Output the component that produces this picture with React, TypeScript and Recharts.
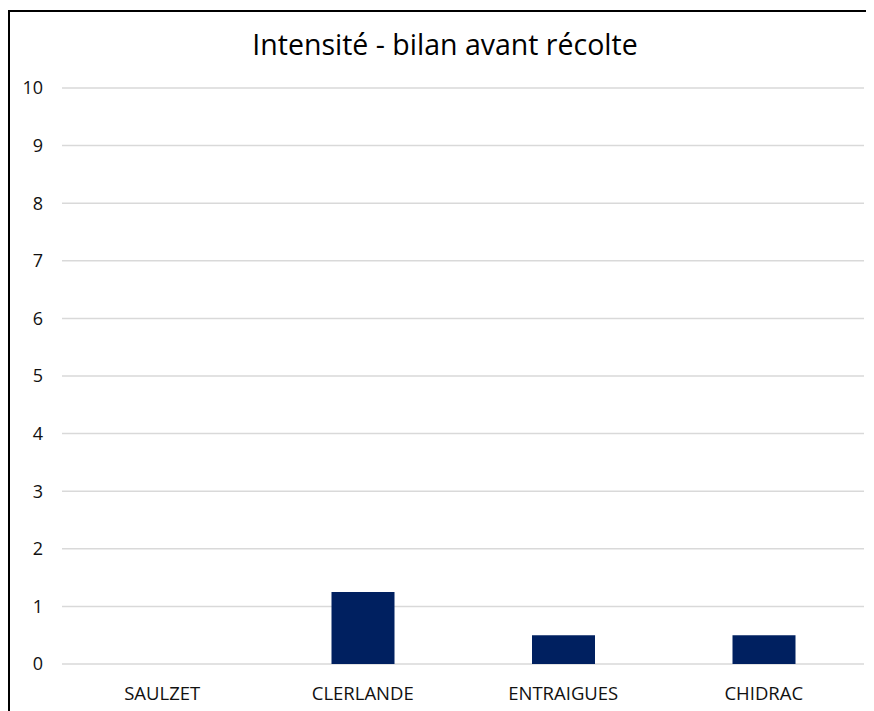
import React from 'react';
import { BarChart, Bar, XAxis, YAxis, CartesianGrid } from 'recharts';

const sites: string[] = ['SAULZET', 'CLERLANDE', 'ENTRAIGUES', 'CHIDRAC'];
const intensite: number[] = [0, 1.25, 0.5, 0.5];
const yTicks: number[] = [0, 1, 2, 3, 4, 5, 6, 7, 8, 9, 10];

const FONT = '"Open Sans", sans-serif';

const chartData = sites.map((site, i) => ({ site, value: intensite[i] }));

const App: React.FC = () => {
    return (
        <div style={{ position: 'relative', width: 866, height: 703, background: '#fff', fontFamily: FONT }}>
            <style>{'html, body { overflow: hidden; }'}</style>
            {/* cadre du graphique : bord gauche et bord haut */}
            <div style={{ position: 'absolute', left: 0, top: 2, width: 2, height: 701, background: '#000' }} />
            <div style={{ position: 'absolute', left: 0, top: 2, width: 866, height: 2, background: '#000' }} />
            <div style={{ position: 'absolute', left: 0, top: 17, width: 874, textAlign: 'center', fontSize: 28.5, color: '#000' }}>
                Intensité - bilan avant récolte
            </div>
            <div style={{ position: 'absolute', left: 0, top: 0 }}>
                <BarChart width={866} height={703} data={chartData} margin={{ top: 80, right: 10, bottom: 17, left: 0 }}>
                    <CartesianGrid vertical={false} stroke="#d9d9d9" strokeWidth={1.5} />
                    <XAxis
                        dataKey="site"
                        axisLine={false}
                        tickLine={false}
                        tickSize={0}
                        tickMargin={23}
                        height={30}
                        tick={{ fill: '#111', fontSize: 18.5, fontFamily: FONT }}
                    />
                    <YAxis
                        domain={[0, 10]}
                        ticks={yTicks}
                        axisLine={false}
                        tickLine={false}
                        tickSize={0}
                        tickMargin={19}
                        width={54}
                        tick={{ fill: '#111', fontSize: 18, fontFamily: FONT }}
                    />
                    <Bar dataKey="value" fill="#002060" barSize={63} isAnimationActive={false} />
                </BarChart>
            </div>
        </div>
    );
};

export default App;
